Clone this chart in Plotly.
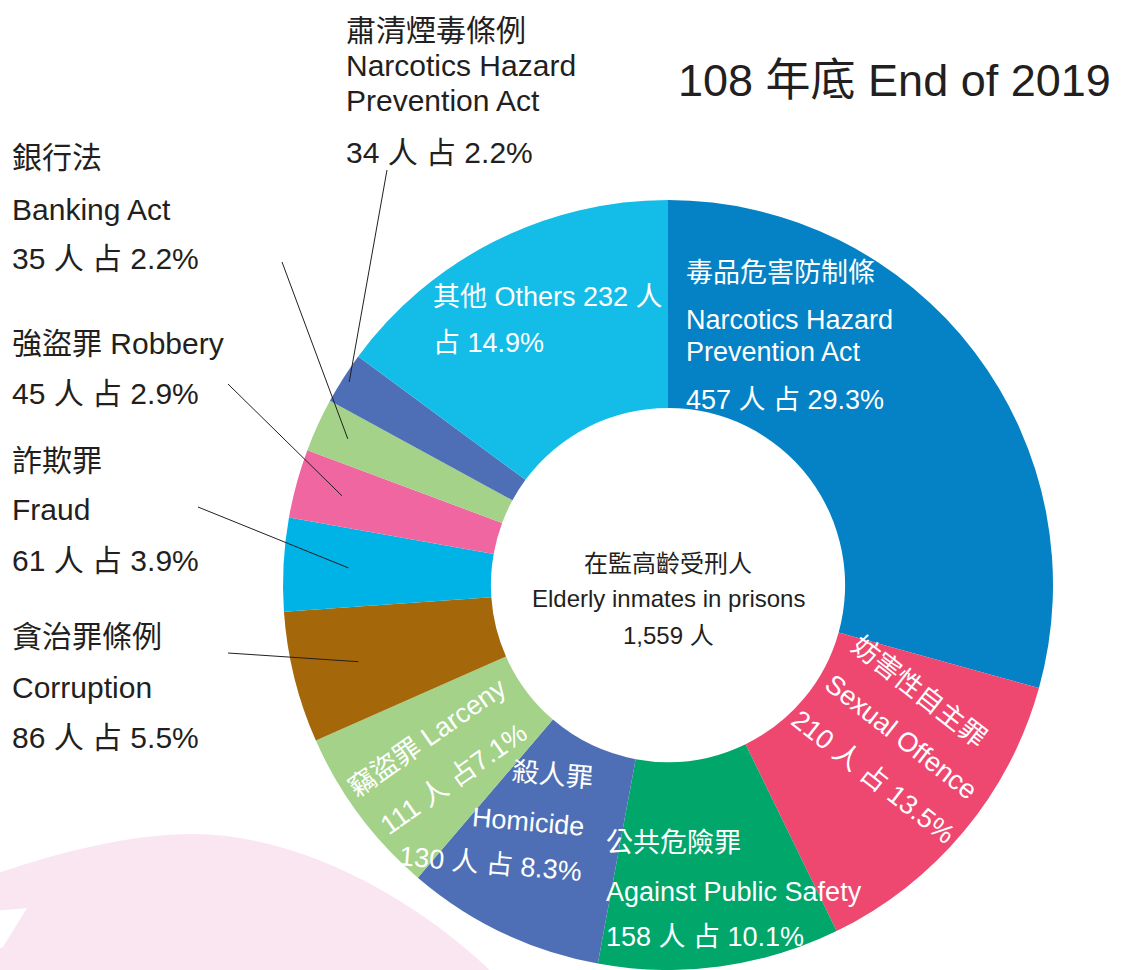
import math
import plotly.graph_objects as go

W, H = 1123, 970

# ---------------- data ----------------
categories_en = ["Narcotics Hazard Prevention Act", "Sexual Offence", "Against Public Safety",
                 "Homicide", "Larceny", "Corruption", "Fraud", "Robbery", "Banking Act",
                 "Narcotics Hazard Prevention Act (old)", "Others"]
categories_zh = ["毒品危害防制條", "妨害性自主罪", "公共危險罪", "殺人罪", "竊盜罪",
                 "貪治罪條例", "詐欺罪", "強盜罪", "銀行法", "肅清煙毒條例", "其他"]
inmates = [457, 210, 158, 130, 111, 86, 61, 45, 35, 34, 232]
percent = ["29.3", "13.5", "10.1", "8.3", "7.1", "5.5", "3.9", "2.9", "2.2", "2.2", "14.9"]
colors = ["#0482C5", "#EE4870", "#00A66A", "#4E6FB5", "#A3D288", "#A4680A",
          "#00B3E6", "#F066A0", "#A3D288", "#4E6FB5", "#14BDE8"]
total_inmates = 1559

# ---------------- geometry / style ----------------
CX, CY, R = 668, 585, 385
HOLE = 0.46
FONT = "Liberation Sans, Arial, Noto Sans CJK TC, sans-serif"
DARK = "#231F20"


def X(px):
    return px / W


def Y(py):
    return 1 - py / H


def slice_point(i, r):
    tot = sum(inmates)
    start = sum(inmates[:i])
    mid = (start + inmates[i] / 2) / tot * 2 * math.pi
    return CX + r * math.sin(mid), CY - r * math.cos(mid)


fig = go.Figure(go.Pie(
    values=inmates,
    labels=categories_en,
    sort=False,
    direction="clockwise",
    rotation=0,
    hole=HOLE,
    marker=dict(colors=colors, line=dict(width=0)),
    textinfo="none",
    hoverinfo="skip",
    showlegend=False,
    domain=dict(x=[X(CX - R), X(CX + R)], y=[Y(CY + R), Y(CY - R)]),
))

annotations = []


def ann(text, px, py, size, color, xanchor="left", angle=0):
    if xanchor == "left":
        px -= 2
    annotations.append(dict(
        text=text, x=X(px), y=Y(py), xref="paper", yref="paper",
        xanchor=xanchor, yanchor="middle", showarrow=False, textangle=angle,
        font=dict(size=size, color=color, family=FONT)))


def lbl(i, space=" "):
    return f"{inmates[i]} 人 占{space}{percent[i]}%"


# title
ann("108 年底 End of 2019", 678, 80, 45, DARK)

# centre text
for t, y in zip(["在監高齡受刑人", "Elderly inmates in prisons", f"{total_inmates:,} 人"],
                [563, 598, 635]):
    ann(t, CX, y, 24, DARK, xanchor="center")

# outside labels (with leader lines)
outside = [
    (9, 346, ["肅清煙毒條例", "Narcotics Hazard", "Prevention Act", lbl(9)], [30, 66, 101, 152]),
    (8, 12, [categories_zh[8], categories_en[8], lbl(8)], [158, 209, 259]),
    (7, 12, [f"{categories_zh[7]} {categories_en[7]}", lbl(7)], [343, 393]),
    (6, 12, [categories_zh[6], categories_en[6], lbl(6)], [460, 509, 560]),
    (5, 12, [categories_zh[5], categories_en[5], lbl(5)], [636, 687, 737]),
]
for i, x, lines, ys in outside:
    for t, y in zip(lines, ys):
        ann(t, x, y, 30, DARK)

leaders = {9: (387, 170, 378), 8: (282, 262, 352), 7: (228, 384, 338),
           6: (198, 507, 320), 5: (228, 653, 319)}
shapes = []

# decorative pink background shape (bottom-left)
pink = (f"M {X(-5)} {Y(874)} C {X(60)} {Y(852)} {X(130)} {Y(834)} {X(193)} {Y(834)} "
        f"C {X(300)} {Y(834)} {X(420)} {Y(900)} {X(500)} {Y(980)} L {X(-5)} {Y(980)} Z")
shapes.append(dict(type="path", path=pink, xref="paper", yref="paper",
                   fillcolor="#F9E6F1", line=dict(width=0), layer="below"))
notch = f"M {X(-5)} {Y(911)} L {X(27)} {Y(908)} L {X(3)} {Y(947)} L {X(-5)} {Y(950)} Z"
shapes.append(dict(type="path", path=notch, xref="paper", yref="paper",
                   fillcolor="#FFFFFF", line=dict(width=0), layer="below"))

for i, (sx, sy, r) in leaders.items():
    ex, ey = slice_point(i, r)
    shapes.append(dict(type="line", xref="paper", yref="paper",
                       x0=X(sx), y0=Y(sy), x1=X(ex), y1=Y(ey),
                       line=dict(color=DARK, width=1), layer="above"))

# inside labels (white)
WH = "#FFFFFF"
for t, y in zip([categories_zh[0], "Narcotics Hazard", "Prevention Act", lbl(0)],
                [273, 320, 352, 400]):
    ann(t, 686, y, 27, WH)
for t, y in zip([f"{categories_zh[10]} {categories_en[10]} {inmates[10]} 人", f"占 {percent[10]}%"],
                [297, 343]):
    ann(t, 433, y, 27, WH)
for t, (x, y) in zip([categories_zh[1], categories_en[1], lbl(1)],
                     [(919, 692), (901, 737), (873, 777)]):
    ann(t, x, y, 27, WH, xanchor="center", angle=38)
for t, y in zip([categories_zh[2], categories_en[2], lbl(2)], [843, 892, 937]):
    ann(t, 606, y, 27, WH)
for t, (x, y) in zip([categories_zh[3], categories_en[3], lbl(3)],
                     [(552, 775), (528, 822), (490, 864)]):
    ann(t, x, y, 27, WH, xanchor="center", angle=5)
for t, (x, y) in zip([f"{categories_zh[4]} {categories_en[4]}", lbl(4, space="")],
                     [(427, 738), (454, 779)]):
    ann(t, x, y, 27, WH, xanchor="center", angle=-35)

fig.update_layout(
    width=W, height=H,
    margin=dict(l=0, r=0, t=0, b=0),
    paper_bgcolor="#FFFFFF",
    plot_bgcolor="#FFFFFF",
    annotations=annotations,
    shapes=shapes,
    showlegend=False,
)

fig.write_html("out.html", config={"displayModeBar": False},
               post_script="document.body.style.margin='0';document.body.style.overflow='hidden';")
